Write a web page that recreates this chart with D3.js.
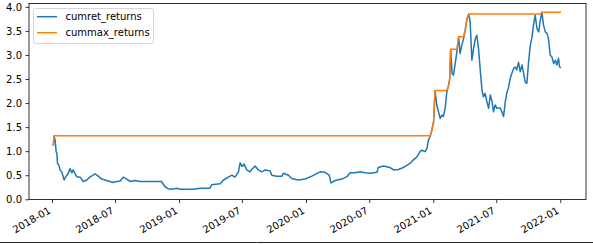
<!DOCTYPE html>
<html><head><meta charset="utf-8">
<script src="https://cdn.jsdelivr.net/npm/d3@7"></script>
<style>body{margin:0;background:#fff} svg{display:block;font-family:"DejaVu Sans",sans-serif}</style>
</head><body><svg id="c" width="593" height="244"></svg>
<script>
const dates = [
"2018-01-05","2018-01-07","2018-01-10","2018-01-13","2018-01-15","2018-01-17","2018-01-21","2018-01-24","2018-01-29","2018-02-02",
"2018-02-05","2018-02-09","2018-02-17","2018-02-22","2018-02-27","2018-03-03","2018-03-08","2018-03-13","2018-03-23","2018-04-01",
"2018-04-11","2018-04-20","2018-05-05","2018-05-14","2018-05-24","2018-06-07","2018-06-17","2018-06-26","2018-07-06","2018-07-16",
"2018-07-25","2018-08-04","2018-08-13","2018-08-28","2018-09-11","2018-09-25","2018-10-10","2018-10-24","2018-11-12","2018-11-22",
"2018-12-01","2018-12-11","2018-12-26","2019-01-04","2019-01-23","2019-02-11","2019-03-03","2019-03-31","2019-04-05","2019-04-29",
"2019-05-09","2019-05-23","2019-06-02","2019-06-11","2019-06-21","2019-06-26","2019-07-01","2019-07-07","2019-07-15","2019-07-24",
"2019-07-29","2019-08-08","2019-08-17","2019-08-27","2019-09-06","2019-09-20","2019-09-25","2019-10-09","2019-10-24","2019-10-28",
"2019-11-12","2019-11-21","2019-12-10","2019-12-30","2020-01-18","2020-02-11","2020-02-25","2020-03-08","2020-03-13","2020-03-25",
"2020-04-13","2020-04-28","2020-05-07","2020-05-21","2020-06-05","2020-06-19","2020-07-04","2020-07-23","2020-07-27","2020-08-11",
"2020-08-30","2020-09-09","2020-09-23","2020-10-07","2020-10-27","2020-11-05","2020-11-15","2020-11-24","2020-11-29","2020-12-09",
"2020-12-14","2020-12-18","2020-12-23","2020-12-28","2021-01-02","2021-01-06","2021-01-11","2021-01-16","2021-01-21","2021-01-26",
"2021-01-30","2021-02-04","2021-02-09","2021-02-14","2021-02-17","2021-02-20","2021-02-24","2021-02-28","2021-03-05","2021-03-10",
"2021-03-15","2021-03-19","2021-03-24","2021-03-29","2021-04-03","2021-04-08","2021-04-13","2021-04-17","2021-04-22","2021-04-27",
"2021-05-02","2021-05-06","2021-05-11","2021-05-16","2021-05-21","2021-05-25","2021-05-30","2021-06-04","2021-06-09","2021-06-14",
"2021-06-19","2021-06-23","2021-06-28","2021-07-03","2021-07-12","2021-07-17","2021-07-22","2021-07-27","2021-08-01","2021-08-05",
"2021-08-10","2021-08-15","2021-08-20","2021-08-25","2021-08-29","2021-09-03","2021-09-08","2021-09-13","2021-09-17","2021-09-22",
"2021-09-27","2021-10-02","2021-10-07","2021-10-12","2021-10-16","2021-10-21","2021-10-26","2021-10-31","2021-11-04","2021-11-09",
"2021-11-14","2021-11-19","2021-11-24","2021-11-28","2021-12-03","2021-12-08","2021-12-13","2021-12-18","2021-12-22","2021-12-27",
"2021-12-30","2022-01-01"];

const cumretReturns = [
1.13,1.32,1.23,0.99,0.96,0.75,0.71,0.61,0.57,0.48,
0.40,0.46,0.54,0.64,0.55,0.61,0.54,0.47,0.46,0.37,
0.40,0.46,0.53,0.48,0.42,0.39,0.37,0.35,0.37,0.38,
0.46,0.42,0.37,0.39,0.37,0.37,0.37,0.37,0.37,0.26,
0.22,0.21,0.23,0.21,0.21,0.21,0.23,0.23,0.30,0.32,
0.40,0.46,0.50,0.46,0.57,0.76,0.68,0.73,0.61,0.57,
0.62,0.69,0.61,0.57,0.61,0.59,0.50,0.48,0.48,0.54,
0.50,0.43,0.40,0.42,0.48,0.57,0.56,0.50,0.34,0.39,
0.42,0.47,0.55,0.55,0.57,0.55,0.54,0.56,0.66,0.69,
0.66,0.61,0.62,0.66,0.75,0.82,0.88,0.99,1.02,0.99,
1.06,1.23,1.30,1.44,1.61,2.26,1.96,1.82,1.68,1.75,
1.72,1.89,2.23,2.37,2.48,3.12,2.62,2.58,2.82,3.07,
3.38,3.03,3.20,3.34,3.52,3.76,3.85,3.69,2.89,3.14,
3.34,3.41,3.14,2.69,2.27,2.13,2.20,2.03,1.89,2.17,
2.03,1.82,1.96,1.89,1.90,1.82,1.72,2.03,2.23,2.31,
2.51,2.62,2.72,2.75,2.69,2.85,2.65,2.79,2.65,2.44,
2.41,2.86,3.20,3.38,3.62,3.83,3.55,3.48,3.69,3.89,
3.62,3.48,3.45,3.34,3.00,2.96,2.82,2.89,2.79,2.93,
2.75,2.74];

const seriesNames = ["cumret_returns", "cummax_returns"];
const seriesColors = ["#1f77b4", "#ff7f0e"];
const yTicks = [0.0, 0.5, 1.0, 1.5, 2.0, 2.5, 3.0, 3.5, 4.0];
const xTicks = ["2018-01-01","2018-07-01","2019-01-01","2019-07-01","2020-01-01","2020-07-01","2021-01-01","2021-07-01","2022-01-01"];
const xDomain = ["2017-10-27", "2022-03-16"];
const yDomain = [-0.005, 4.07];

// cumulative maximum of the returns series
const cummaxReturns = [];
let runMax = -Infinity;
for (const v of cumretReturns) { runMax = Math.max(runMax, v); cummaxReturns.push(runMax); }

const parse = d3.utcParse("%Y-%m-%d");
const W = 593, H = 244;
const plot = {left: 29, right: 586, top: 3.5, bottom: 199.5};

const svg = d3.select("#c");
svg.append("rect").attr("width", W).attr("height", H).attr("fill", "#fff");

const x = d3.scaleUtc().domain(xDomain.map(parse)).range([plot.left, plot.right]);
const y = d3.scaleLinear().domain(yDomain).range([plot.bottom, plot.top]);

const g = svg.append("g");

const series = [
  {name: seriesNames[0], color: seriesColors[0], values: cumretReturns},
  {name: seriesNames[1], color: seriesColors[1], values: cummaxReturns}
];

const line = d3.line().x(d => x(d[0])).y(d => y(d[1]));
const parsedDates = dates.map(parse);

g.append("defs").append("clipPath").attr("id", "clip")
  .append("rect").attr("x", plot.left).attr("y", plot.top)
  .attr("width", plot.right - plot.left).attr("height", plot.bottom - plot.top);

series.forEach(s => {
  g.append("path")
    .datum(parsedDates.map((d, i) => [d, s.values[i]]))
    .attr("clip-path", "url(#clip)")
    .attr("fill", "none")
    .attr("stroke", s.color)
    .attr("stroke-width", 1.5)
    .attr("stroke-linejoin", "round")
    .attr("stroke-linecap", "square")
    .attr("d", line);
});

// axes
const yAxis = d3.axisLeft(y).tickValues(yTicks).tickFormat(d3.format(".1f")).tickSize(3.5).tickPadding(3.5);
const ya = svg.append("g").attr("transform", `translate(${plot.left},0)`).call(yAxis);
const xAxis = d3.axisBottom(x).tickValues(xTicks.map(parse)).tickFormat(d3.utcFormat("%Y-%m")).tickSize(3.5);
const xa = svg.append("g").attr("transform", `translate(0,${plot.bottom})`).call(xAxis);

[ya, xa].forEach(a => {
  a.select(".domain").remove();
  a.selectAll(".tick line").attr("stroke", "#000").attr("stroke-width", 0.8);
  a.selectAll("text").attr("font-size", 10).attr("fill", "#000").attr("font-family", "DejaVu Sans");
});
xa.selectAll("text")
  .attr("text-anchor", "end")
  .attr("x", 0).attr("y", 0).attr("dy", null)
  .attr("transform", "translate(-1,13) rotate(-30)");

// spines
svg.append("rect")
  .attr("x", plot.left).attr("y", plot.top)
  .attr("width", plot.right - plot.left).attr("height", plot.bottom - plot.top)
  .attr("fill", "none").attr("stroke", "#000").attr("stroke-width", 0.8);

// legend
const lg = svg.append("g").attr("transform", "translate(33.5,8.5)");
lg.append("rect").attr("width", 120).attr("height", 35).attr("rx", 2)
  .attr("fill", "#fff").attr("fill-opacity", 0.8).attr("stroke", "#cccccc").attr("stroke-width", 0.8);
series.forEach((s, i) => {
  const yy = 8.2 + i * 16;
  lg.append("line").attr("x1", 3.5).attr("x2", 23.5).attr("y1", yy).attr("y2", yy)
    .attr("stroke", s.color).attr("stroke-width", 1.5);
  lg.append("text").attr("x", 32).attr("y", yy).attr("dy", "0.35em")
    .attr("font-size", 10).attr("fill", "#000").text(s.name);
});

// figure frame bottom line
svg.append("line").attr("x1", 0).attr("x2", W).attr("y1", 242.5).attr("y2", 242.5)
  .attr("stroke", "#222").attr("stroke-width", 1);
</script>
</body></html>
